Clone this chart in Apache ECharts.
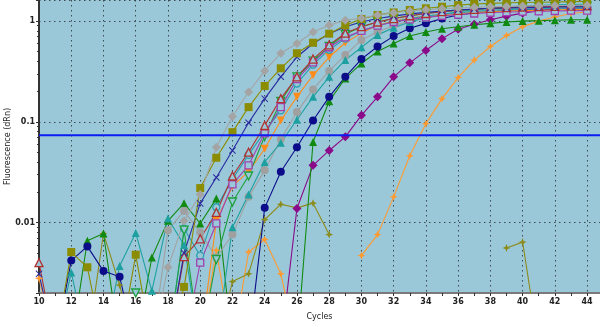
<!DOCTYPE html>
<html>
<head>
<meta charset="utf-8">
<script src="https://cdn.jsdelivr.net/npm/echarts@6/dist/echarts.min.js"></script>
<style>
  html, body { margin: 0; padding: 0; background: #fff; }
  #chart { width: 600px; height: 327px; }
</style>
</head>
<body>
<div id="chart"></div>
<script>
// cycles 10..44, value below the axis floor = L, gap = null
const L = 0.0006
const cycles = [10, 11, 12, 13, 14, 15, 16, 17, 18, 19, 20, 21, 22, 23, 24, 25, 26, 27, 28, 29, 30, 31, 32, 33, 34, 35, 36, 37, 38, 39, 40, 41, 42, 43, 44]
const threshold = 0.0735

const greyDiamond = [L, L, L, L, L, L, L, L, 0.0036, 0.0104, 0.019, 0.056, 0.113, 0.198, 0.32, 0.48, 0.6, 0.78, 0.91, 1.02, 1.07, 1.15, 1.21, 1.26, 1.3, 1.33, 1.35, 1.37, 1.39, 1.4, 1.41, 1.42, 1.43, 1.43, 1.44]
const oliveSquare = [L, L, 0.0051, 0.0036, L, L, 0.0048, L, L, 0.0023, 0.022, 0.044, 0.079, 0.14, 0.227, 0.34, 0.48, 0.61, 0.75, 0.91, 1.05, 1.15, 1.22, 1.29, 1.34, 1.39, 1.44, 1.48, 1.5, 1.52, 1.53, 1.54, 1.55, 1.56, 1.57]
const navyCross = [0.0031, L, L, L, L, L, L, L, L, 0.005, 0.0155, 0.028, 0.052, 0.098, 0.17, 0.28, 0.44, 0.6, 0.75, 0.88, 0.98, 1.06, 1.12, 1.18, 1.22, 1.26, 1.29, 1.32, 1.34, 1.35, 1.36, 1.37, 1.38, 1.39, 1.39]
const redTriangle = [0.004, L, L, L, L, L, L, L, L, 0.0046, 0.0069, 0.0126, 0.029, 0.05, 0.092, 0.17, 0.28, 0.42, 0.58, 0.76, 0.88, 0.98, 1.06, 1.13, 1.19, 1.24, 1.28, 1.31, 1.34, 1.36, 1.38, 1.39, 1.4, 1.41, 1.42]
const purpleSquare = [L, L, L, L, L, L, L, L, L, L, 0.004, 0.0098, 0.024, 0.037, 0.077, 0.14, 0.265, 0.39, 0.55, 0.69, 0.8, 0.9, 0.98, 1.04, 1.09, 1.13, 1.16, 1.19, 1.21, 1.23, 1.24, 1.25, 1.26, 1.27, 1.27]
const greenDown = [L, L, L, L, L, L, 0.002, L, L, 0.0084, L, 0.0043, 0.016, 0.029, 0.072, 0.16, 0.28, 0.4, 0.56, 0.74, 0.88, 0.98, 1.06, 1.13, 1.19, 1.24, 1.28, 1.31, 1.33, 1.35, 1.37, 1.38, 1.39, 1.4, 1.41]
const tealCircle = [L, L, L, L, L, L, L, L, L, 0.0087, 0.0047, 0.0142, 0.027, 0.047, 0.08, 0.13, 0.24, 0.37, 0.52, 0.67, 0.8, 0.9, 0.99, 1.06, 1.12, 1.17, 1.21, 1.25, 1.28, 1.3, 1.32, 1.33, 1.34, 1.35, 1.36]
const orangeDown = [L, L, L, L, L, L, L, L, L, L, L, 0.0104, 0.023, 0.032, 0.054, 0.103, 0.177, 0.29, 0.44, 0.61, 0.76, 0.91, 1.0, 1.07, 1.12, 1.16, 1.19, 1.22, 1.24, 1.26, 1.27, 1.28, 1.29, 1.3, 1.3]
const tealTriangle = [L, L, 0.0032, L, L, 0.0037, 0.0079, 0.0021, 0.011, 0.006, L, L, 0.009, 0.019, 0.04, 0.062, 0.105, 0.177, 0.28, 0.41, 0.55, 0.73, 0.86, 0.98, 1.08, 1.17, 1.24, 1.3, 1.35, 1.38, 1.41, 1.43, 1.45, 1.46, 1.47]
const greyCircle = [L, L, L, L, L, L, L, L, 0.0084, 0.013, 0.008, 0.0045, 0.0076, 0.018, 0.033, 0.067, 0.125, 0.21, 0.32, 0.46, 0.65, 0.78, 0.9, 1.0, 1.08, 1.15, 1.2, 1.24, 1.27, 1.3, 1.32, 1.33, 1.34, 1.35, 1.36]
const navyCircle = [L, L, 0.0042, 0.0058, 0.0033, 0.0029, L, L, L, L, L, L, L, L, 0.014, 0.032, 0.056, 0.103, 0.177, 0.28, 0.42, 0.56, 0.71, 0.85, 0.95, 1.06, 1.15, 1.21, 1.25, 1.28, 1.3, 1.32, 1.33, 1.34, 1.35]
const greenTriangle = [L, L, L, 0.0066, 0.0078, L, L, 0.0045, 0.0104, 0.0156, 0.0098, 0.0173, L, L, L, L, L, 0.063, 0.16, 0.27, 0.38, 0.5, 0.6, 0.71, 0.78, 0.84, 0.88, 0.92, 0.95, 0.98, 1.0, 1.01, 1.02, 1.03, 1.03]
const purpleDiamond = [L, L, L, L, L, L, L, L, L, L, L, L, L, L, L, L, 0.0138, 0.037, 0.052, 0.071, 0.116, 0.177, 0.28, 0.385, 0.51, 0.67, 0.83, 0.93, 1.03, 1.12, 1.2, 1.27, 1.32, 1.36, 1.38]
const oliveStar = [null, null, null, L, 0.0078, 0.0024, L, null, null, null, null, L, 0.0026, 0.0031, 0.0107, 0.0152, 0.014, 0.0156, 0.0076, null, null, null, null, null, null, null, null, null, null, 0.0056, 0.0064, L, null, null, null]
const orangeStar = [0.0028, L, null, null, null, null, null, null, null, null, L, 0.0053, L, 0.0051, 0.0068, 0.0031, L, null, null, null, 0.0047, 0.0076, 0.018, 0.046, 0.096, 0.17, 0.275, 0.41, 0.56, 0.72, 0.88, 1.0, 1.1, 1.19, 1.24]

const plotBg = '#9bc8d8'
const crossPath = 'path://M-4,-5L0,-1L4,-5L5,-4L1,0L5,4L4,5L0,1L-4,5L-5,4L-1,0L-5,-4Z'
const starPath = 'path://M0,-5L1.4,-1.4L5,0L1.4,1.4L0,5L-1.4,1.4L-5,0L-1.4,-1.4Z'

const labelStyle = {
  color: '#222',
  fontSize: 8,
  fontFamily: 'DejaVu Sans',
  fontWeight: 'bold'
}

const nameStyle = {
  color: '#222',
  fontSize: 8,
  fontFamily: 'DejaVu Sans'
}

const makeSeries = (values, color, symbol, opts = {}) => ({
  type: 'line',
  data: values.map((v, i) => [cycles[i], v]),
  symbol,
  symbolSize: opts.size || 7,
  symbolRotate: opts.rotate || 0,
  connectNulls: false,
  clip: true,
  lineStyle: { color, width: 1.1 },
  itemStyle: opts.hollow
    ? { color: plotBg, borderColor: color, borderWidth: 1.3 }
    : { color, borderWidth: 0 },
  emphasis: { disabled: true }
})

const series = [
  makeSeries(orangeStar, '#ff9a30', starPath, { size: 8 }),
  makeSeries(oliveStar, '#8c8c1c', starPath, { size: 8 }),
  makeSeries(purpleDiamond, '#8a0a8a', 'diamond', { size: 9 }),
  makeSeries(greenTriangle, '#108a10', 'triangle', { size: 8 }),
  makeSeries(navyCircle, '#0c0c8a', 'circle', { size: 8 }),
  makeSeries(greyCircle, '#a0a0a0', 'circle', { size: 8 }),
  makeSeries(tealTriangle, '#1fa0a0', 'triangle', { size: 8 }),
  makeSeries(orangeDown, '#ff8c1a', 'triangle', { size: 8, rotate: 180 }),
  makeSeries(tealCircle, '#2aa0b0', 'circle', { size: 7, hollow: true }),
  makeSeries(greenDown, '#1ea03c', 'triangle', { size: 8, rotate: 180, hollow: true }),
  makeSeries(purpleSquare, '#a040b0', 'rect', { size: 7, hollow: true }),
  makeSeries(redTriangle, '#b03030', 'triangle', { size: 8, hollow: true }),
  makeSeries(navyCross, '#2828a0', crossPath, { size: 7 }),
  makeSeries(oliveSquare, '#8c8c00', 'rect', { size: 8 }),
  makeSeries(greyDiamond, '#a4a4a4', 'diamond', { size: 9 })
]

// threshold line
series.push({
  type: 'line',
  data: [[10, threshold], [44.8, threshold]],
  symbol: 'none',
  lineStyle: { color: '#0a1cf0', width: 2 },
  z: 10
})

const option = {
  animation: false,
  grid: {
    left: 39,
    right: 0,
    top: 0,
    bottom: 34,
    containLabel: false,
    outerBoundsMode: 'none',
    show: true,
    backgroundColor: plotBg,
    borderWidth: 0
  },
  xAxis: {
    type: 'value',
    min: 10,
    max: 44.8,
    interval: 2,
    name: 'Cycles',
    nameLocation: 'middle',
    nameGap: 20,
    nameMoveOverlap: false,
    nameTextStyle: { ...nameStyle },
    axisLine: { lineStyle: { color: '#7a7a7a', width: 2 } },
    axisTick: { show: true, length: 3, lineStyle: { color: '#333' } },
    minorTick: { show: true, splitNumber: 2, length: 3, lineStyle: { color: '#333' } },
    axisLabel: { ...labelStyle, margin: 5, showMaxLabel: false },
    splitLine: { show: true, lineStyle: { color: '#3c4a52', type: [1.5, 3.5], width: 1 } }
  },
  yAxis: {
    type: 'log',
    logBase: 10,
    min: 0.002,
    max: 1.62,
    name: 'Fluorescence (dRn)',
    nameLocation: 'middle',
    nameGap: 27,
    nameMoveOverlap: false,
    nameTextStyle: { ...nameStyle },
    axisLine: { show: true, lineStyle: { color: '#333', width: 2 } },
    axisTick: { show: true, length: 3, lineStyle: { color: '#333' } },
    minorTick: { show: true, splitNumber: 9, length: 2, lineStyle: { color: '#333' } },
    axisLabel: {
      ...labelStyle,
      margin: 4,
      showMinLabel: false,
      showMaxLabel: false,
      formatter: v => String(v)
    },
    splitLine: { show: true, lineStyle: { color: '#3c4a52', type: [1.5, 3.5], width: 1 } }
  },
  series
}

const chart = echarts.init(document.getElementById('chart'))
chart.setOption(option)
</script>
</body>
</html>
